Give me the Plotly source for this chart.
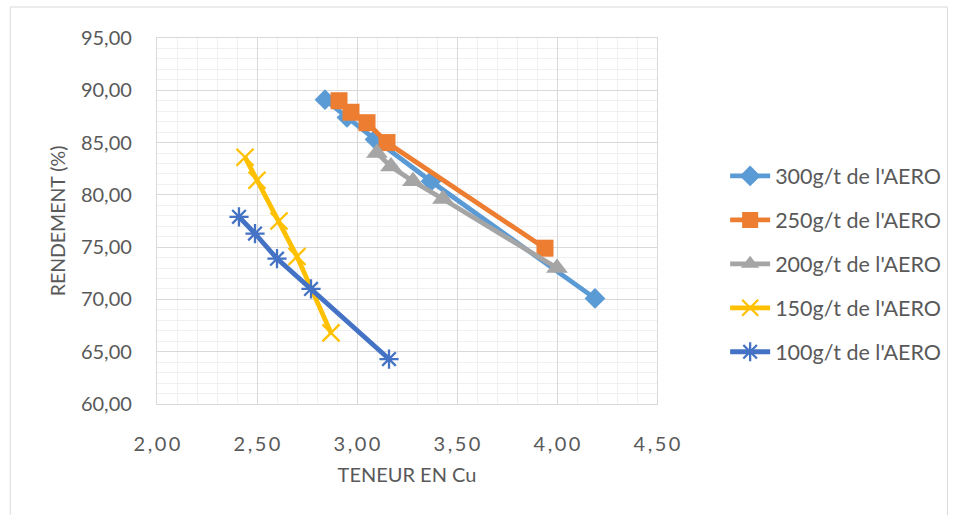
import plotly.graph_objects as go

# ---- data ----
names = ["300g/t de l'AERO", "250g/t de l'AERO", "200g/t de l'AERO",
         "150g/t de l'AERO", "100g/t de l'AERO"]
x300 = [2.84, 2.95, 3.09, 3.37, 4.19]
y300 = [89.1, 87.4, 85.3, 81.3, 70.1]
x250 = [2.91, 2.97, 3.05, 3.15, 3.94]
y250 = [89.0, 87.9, 86.9, 85.0, 74.9]
x200 = [3.10, 3.17, 3.28, 3.43, 4.00]
y200 = [84.0, 82.7, 81.3, 79.6, 73.0]
x150 = [2.44, 2.50, 2.61, 2.70, 2.87]
y150 = [83.6, 81.4, 77.5, 74.1, 66.8]
x100 = [2.41, 2.49, 2.60, 2.77, 3.16]
y100 = [77.9, 76.3, 73.9, 71.0, 64.3]

x_tick_vals = [2.0, 2.5, 3.0, 3.5, 4.0, 4.5]
x_tick_text = ["2,00", "2,50", "3,00", "3,50", "4,00", "4,50"]
y_tick_vals = [60, 65, 70, 75, 80, 85, 90, 95]
y_tick_text = ["60,00", "65,00", "70,00", "75,00", "80,00", "85,00", "90,00", "95,00"]

colors = ["#5B9BD5", "#ED7D31", "#A5A5A5", "#FFC000", "#4472C4"]

FONT = "Lato"
GREY = "#595959"

def spaced(s):
    return "\u2009".join(list(s))

fig = go.Figure()
series = [(x300, y300), (x250, y250), (x200, y200), (x150, y150), (x100, y100)]
markers = [
    dict(symbol="diamond", size=16),
    dict(symbol="square", size=17),
    dict(symbol="triangle-up", size=19),
    dict(symbol="x-thin-open", size=17, line=dict(width=2.3)),
    dict(symbol="asterisk-open", size=16, line=dict(width=2.3)),
]
for i, ((xs, ys), name, c, m) in enumerate(zip(series, names, colors, markers)):
    mk = dict(m)
    mk["color"] = c
    if "line" in mk:
        mk["line"] = dict(mk["line"], color=c)
    else:
        mk["line"] = dict(width=0)
    fig.add_trace(go.Scatter(
        x=xs, y=ys, name=name, mode="lines+markers",
        line=dict(color=c, width=4.8),
        marker=mk, legendgroup=str(i),
    ))

fig.update_layout(
    width=957, height=515,
    margin=dict(l=157, r=299, t=38, b=111),
    paper_bgcolor="white", plot_bgcolor="white",
    font=dict(family=FONT, color=GREY, size=20),
    showlegend=True,
    legend=dict(
        x=1.134, y=0.679, xanchor="left", yanchor="top",
        font=dict(family=FONT, size=21.5, color=GREY),
        tracegroupgap=13, itemwidth=40, bgcolor="rgba(0,0,0,0)",
    ),
    shapes=[dict(type="rect", xref="paper", yref="paper",
                 x0=(10 - 157) / 501, x1=(949 - 157) / 501,
                 y0=-0.4, y1=(404 - 7) / 366,
                 line=dict(color="#D9D9D9", width=1), fillcolor="rgba(0,0,0,0)",
                 layer="below")],
)

fig.update_xaxes(
    range=[2.0, 4.5], tickvals=x_tick_vals, ticktext=[spaced(t) for t in x_tick_text],
    showgrid=True, gridcolor="#D9D9D9", gridwidth=1.3,
    minor=dict(dtick=0.1, showgrid=True, gridcolor="#F0F0F0", gridwidth=1.3),
    showline=True, linecolor="#D9D9D9", linewidth=1.3, mirror=True,
    zeroline=False, ticks="", ticklabelstandoff=22,
    tickfont=dict(family=FONT, size=20, color=GREY),
    title=dict(text="TENEUR EN Cu", standoff=13,
               font=dict(family=FONT, size=20, color=GREY)),
)
fig.update_yaxes(
    range=[60, 95], tickvals=y_tick_vals, ticktext=y_tick_text,
    showgrid=True, gridcolor="#D9D9D9", gridwidth=1.3,
    minor=dict(dtick=1, showgrid=True, gridcolor="#F0F0F0", gridwidth=1.3),
    showline=True, linecolor="#D9D9D9", linewidth=1.3, mirror=True,
    zeroline=False, ticks="", ticklabelstandoff=20,
    tickfont=dict(family=FONT, size=20, color=GREY),
    title=dict(text="RENDEMENT (%)", standoff=10,
               font=dict(family=FONT, size=19.5, color=GREY)),
)

fig.write_html("out.html")
